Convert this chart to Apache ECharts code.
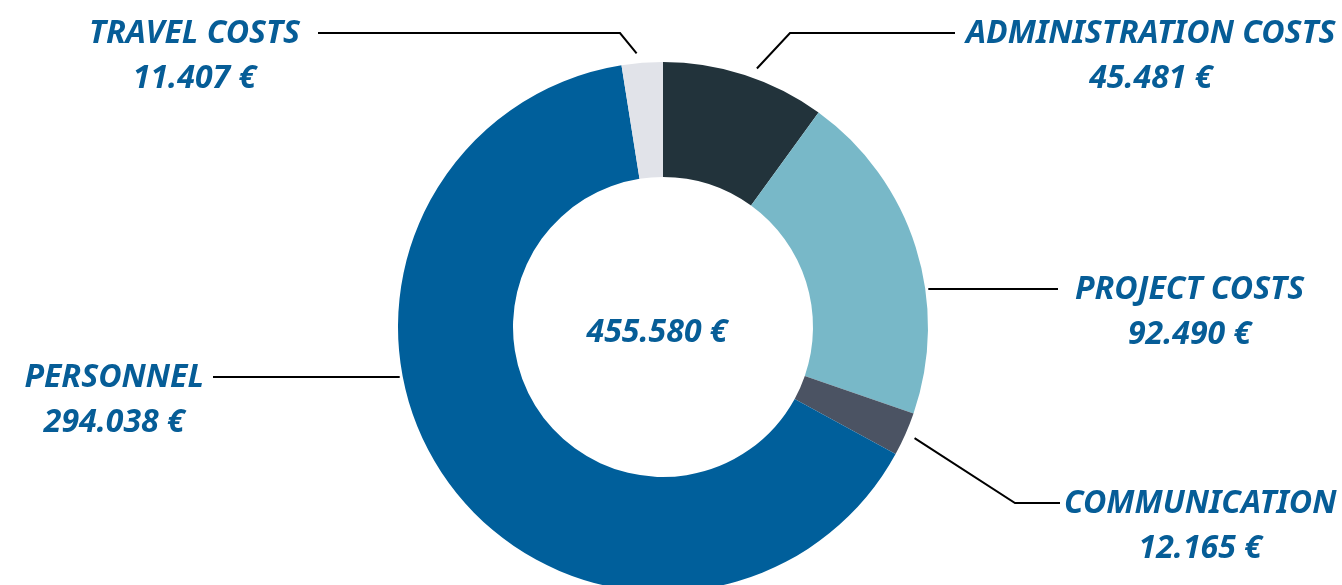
<!DOCTYPE html>
<html><head><meta charset="utf-8">
<script src="https://cdn.jsdelivr.net/npm/echarts@6/dist/echarts.min.js"></script>
<style>html,body{margin:0;padding:0;background:#fff}#c{width:1342px;height:585px}</style>
</head><body><div id="c"></div>
<script>
const categories = ['ADMINISTRATION COSTS', 'PROJECT COSTS', 'COMMUNICATION', 'PERSONNEL', 'TRAVEL COSTS'];
const values = [45481, 92490, 12165, 294038, 11407];
const valueLabels = ['45.481 €', '92.490 €', '12.165 €', '294.038 €', '11.407 €'];
const totalLabel = '455.580 €';
const colors = ['#22333b', '#78b8c8', '#4b5363', '#005f9b', '#e1e3e9'];

// label placement (layout only): line y, bend x (null = straight), line end x, text edge x, line start angle offset (deg)
const labelPlace = [
  { side: 'right', y: 33, bend: 790, end: 955, text: 966, da: 2 },
  { side: 'right', y: 289, bend: null, end: 1058, text: 1075, da: 0 },
  { side: 'right', y: 503, bend: 1015, end: 1060, text: 1064, da: 0 },
  { side: 'left', y: 377, bend: null, end: 213, text: 204, da: 0 },
  { side: 'left', y: 33, bend: 620, end: 318, text: 300, da: -1 }
];

const CX = 663, CY = 327, R_IN = 150, R_OUT = 265;
const FONT = '"Noto Sans", "Open Sans", sans-serif';
const FS = 32;
const BLUE = '#065d97';

const total = values.reduce((a, b) => a + b, 0);
const midAngles = [];
let acc = 0;
values.forEach(v => { midAngles.push((acc + v / 2) / total * 2 * Math.PI); acc += v; });

const chart = echarts.init(document.getElementById('c'), null, { renderer: 'canvas' });
chart.setOption({
  animation: false,
  backgroundColor: '#ffffff',
  graphic: [{
    type: 'text', x: CX - 6, y: 333, z: 10,
    style: { text: totalLabel, align: 'center', verticalAlign: 'middle',
      font: 'italic bold ' + FS + 'px ' + FONT, fill: BLUE }
  }],
  series: [{
    type: 'pie',
    center: [CX, CY],
    radius: [R_IN, R_OUT],
    startAngle: 90,
    clockwise: true,
    avoidLabelOverlap: false,
    silent: true,
    itemStyle: { borderWidth: 0 },
    data: categories.map((c, i) => ({ name: c, value: values[i], itemStyle: { color: colors[i] } })),
    label: {
      show: true,
      position: 'outside',
      formatter: p => '{n|' + p.name + '}\n{v|' + valueLabels[p.dataIndex] + '}',
      rich: {
        n: { fontFamily: FONT, fontSize: FS, fontWeight: 'bold', fontStyle: 'italic', color: BLUE, lineHeight: 45, align: 'center' },
        v: { fontFamily: FONT, fontSize: FS, fontWeight: 'bold', fontStyle: 'italic', color: BLUE, lineHeight: 45, align: 'center' }
      }
    },
    labelLine: { show: true, lineStyle: { color: '#000', width: 2 } },
    labelLayout: function (params) {
      const i = params.dataIndex;
      const L = labelPlace[i];
      let start;
      if (L.bend === null) {
        const r = R_OUT + 3;
        const dy = L.y - CY;
        const dx = Math.sqrt(r * r - dy * dy);
        start = [L.side === 'right' ? CX + dx : CX - dx, L.y];
      } else {
        const a = midAngles[i] + L.da * Math.PI / 180;
        const r = R_OUT + 10;
        start = [CX + r * Math.sin(a), CY - r * Math.cos(a)];
      }
      const pts = L.bend === null
        ? [start, [(start[0] + L.end) / 2, L.y], [L.end, L.y]]
        : [start, [L.bend, L.y], [L.end, L.y]];
      return {
        x: L.text,
        y: L.y - 22,
        align: L.side === 'right' ? 'left' : 'right',
        verticalAlign: 'top',
        labelLinePoints: pts
      };
    }
  }]
});
</script>
</body></html>
